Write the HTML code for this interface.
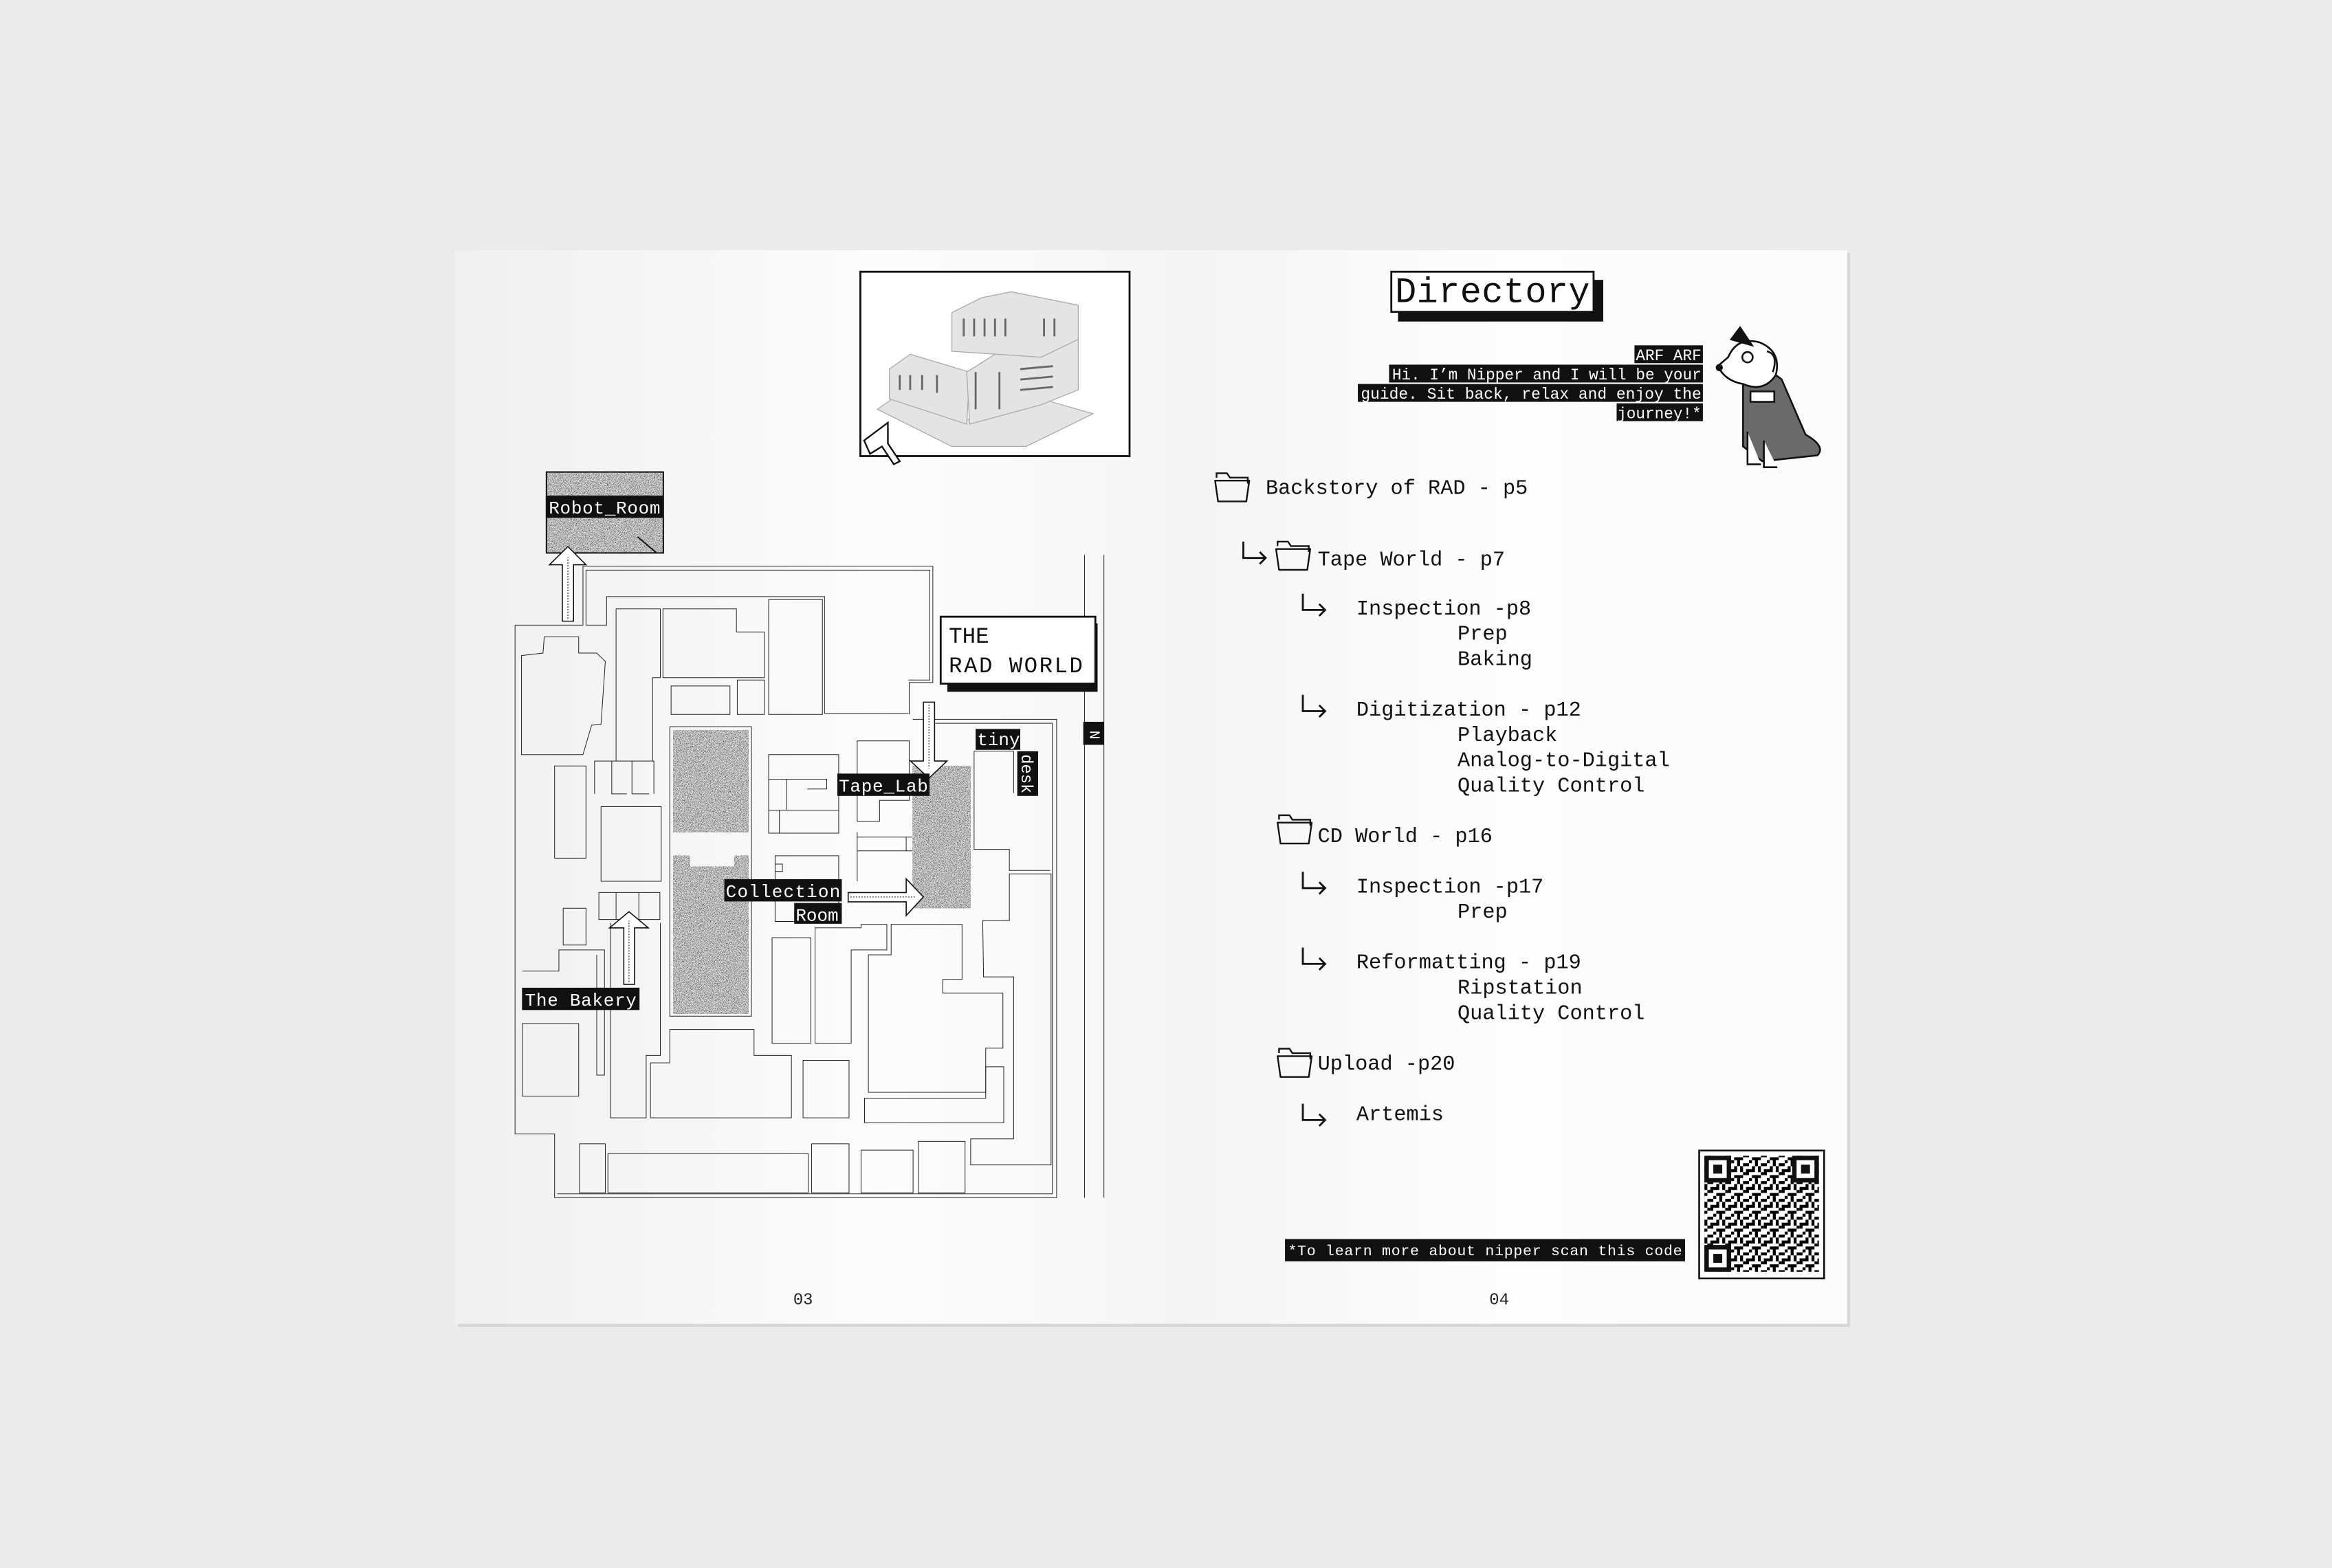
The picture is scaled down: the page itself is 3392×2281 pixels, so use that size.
<!DOCTYPE html>
<html><head><meta charset="utf-8"><style>
html,body{margin:0;padding:0;background:#ebebeb;}
svg{display:block;}
text{font-family:"Liberation Mono","DejaVu Sans Mono",monospace;}
</style></head><body>
<svg width="3392" height="2281" viewBox="0 0 1568 1054" xmlns="http://www.w3.org/2000/svg">
<defs>
<linearGradient id="lp" x1="0" x2="1" y1="0" y2="0"><stop offset="0" stop-color="#f0f0f0"/><stop offset="0.6" stop-color="#fcfcfc"/><stop offset="1" stop-color="#f6f6f6"/></linearGradient>
<linearGradient id="rp" x1="0" x2="1" y1="0" y2="0"><stop offset="0" stop-color="#f4f4f4"/><stop offset="0.5" stop-color="#fdfdfd"/><stop offset="1" stop-color="#fbfbfb"/></linearGradient>
<filter id="noise" x="0" y="0" width="1" height="1">
<feTurbulence type="fractalNoise" baseFrequency="0.9" numOctaves="2" seed="3" result="t"/>
<feColorMatrix in="t" type="matrix" values="0 0 0 0 0  0 0 0 0 0  0 0 0 0 0  5 0 0 0 -2.3" result="a"/>
<feFlood flood-color="#333"/>
<feComposite in2="a" operator="in" result="d"/>
<feFlood flood-color="#e2e2e2"/>
<feComposite in="d" operator="over"/>
<feComposite in2="SourceGraphic" operator="in"/>
</filter>
<pattern id="qr" width="12" height="12" patternUnits="userSpaceOnUse">
<rect width="12" height="12" fill="#fff"/>
<rect x="0" y="0" width="2" height="2"/><rect x="4" y="0" width="2" height="4"/><rect x="8" y="2" width="4" height="2"/><rect x="2" y="4" width="2" height="2"/><rect x="6" y="4" width="2" height="4"/><rect x="0" y="6" width="4" height="2"/><rect x="10" y="6" width="2" height="4"/><rect x="2" y="10" width="4" height="2"/><rect x="8" y="8" width="2" height="2"/><rect x="6" y="10" width="2" height="2"/>
</pattern>
<g id="folder"><path d="M1,3 L1,0 L8,0 L10,3 L22,3 L22,7" fill="none" stroke="#111" stroke-width="1.1"/><path d="M2,19 L0,5 L23,5 L21,19 Z" fill="none" stroke="#111" stroke-width="1.1" stroke-linejoin="round"/></g>
<g id="ret"><path d="M0,0 V11 H15 M11,7 L15,11 L11,15" fill="none" stroke="#111" stroke-width="1.3"/></g>
</defs>
<rect width="1568" height="1054" fill="#ebebeb"/>
<rect x="308" y="170" width="936" height="722" fill="#d6d6d6"/>
<rect x="306" y="168" width="478" height="722" fill="url(#lp)"/>
<rect x="784" y="168" width="458" height="722" fill="url(#rp)"/>

<!-- building picture -->
<rect x="578.5" y="182.5" width="181" height="124" fill="#fff" stroke="#111" stroke-width="1.3"/>
<g fill="#e4e4e4" stroke="#aaa" stroke-width="0.6">
<polygon points="590,275 640,300 690,300 735,278 700,268 650,282 600,268"/>
<polygon points="598,248 598,268 650,285 652,250 612,238"/>
<polygon points="650,250 652,285 700,272 725,262 725,225 685,228"/>
<polygon points="640,210 640,236 700,240 725,228 725,205 680,196 660,200"/>
</g>
<g stroke="#666" stroke-width="1.3"><line x1="648" y1="214" x2="648" y2="226"/><line x1="655" y1="214" x2="655" y2="226"/><line x1="662" y1="214" x2="662" y2="226"/><line x1="669" y1="214" x2="669" y2="226"/><line x1="676" y1="214" x2="676" y2="226"/><line x1="702" y1="214" x2="702" y2="226"/><line x1="709" y1="214" x2="709" y2="226"/>
<line x1="605" y1="252" x2="605" y2="262"/><line x1="612" y1="252" x2="612" y2="262"/><line x1="620" y1="252" x2="620" y2="262"/><line x1="630" y1="252" x2="630" y2="264"/><line x1="686" y1="248" x2="708" y2="246"/><line x1="686" y1="255" x2="708" y2="253"/><line x1="686" y1="262" x2="708" y2="260"/><line x1="656" y1="250" x2="656" y2="275"/><line x1="672" y1="250" x2="672" y2="275"/></g>
<polygon points="581,296 597,284 597,298 605,310 601,312 593,300 585,305" fill="#fff" stroke="#111" stroke-width="1.1"/>

<!-- MAP -->
<g transform="translate(323.2,305.3) scale(0.289,0.330)" fill="none" stroke="#222" stroke-width="1" >
<path vector-effect="non-scaling-stroke" d="M80,348 H238 V228 H1052 V465 H997 V530 M1005,540 H1340 V1515 H172 V1385 H80 V348"/>
<path vector-effect="non-scaling-stroke" d="M245,348 V236 H1045 V460 H995 M1058,548 H1330 V1507 H178"/>
<path vector-effect="non-scaling-stroke" d="M95,410 L145,405 L148,372 L228,372 L228,405 L270,405 L290,422 L280,550 L258,552 L238,612 L95,612 Z"/>
<rect vector-effect="non-scaling-stroke" x="172" y="635" width="73" height="188"/>
<path vector-effect="non-scaling-stroke" d="M265,692 V625 H403 V692 M305,625 V692 H340 M352,625 V692 H392"/>
<rect vector-effect="non-scaling-stroke" x="280" y="718" width="140" height="152"/>
<path vector-effect="non-scaling-stroke" d="M275,948 V893 H417 V948 Z M315,893 V948 M368,893 V948"/>
<rect vector-effect="non-scaling-stroke" x="192" y="925" width="53" height="75"/>
<path vector-effect="non-scaling-stroke" d="M97,1053 H182 V1010 H288 V1265 H270 V1020"/>
<rect vector-effect="non-scaling-stroke" x="97" y="1160" width="131" height="148"/>
<path vector-effect="non-scaling-stroke" d="M315,625 V315 H418 V455 H400 V625"/>
<path vector-effect="non-scaling-stroke" d="M302,955 V1352 H385 V1225 H418 V955"/>
<path vector-effect="non-scaling-stroke" d="M245,348 H293 V290 H800 V528 H995"/>
<path vector-effect="non-scaling-stroke" d="M424,315 H595 V362 H660 V455 H424 Z"/>
<rect vector-effect="non-scaling-stroke" x="443" y="472" width="137" height="58"/>
<rect vector-effect="non-scaling-stroke" x="597" y="460" width="63" height="70"/>
<rect vector-effect="non-scaling-stroke" x="670" y="296" width="125" height="234"/>
<path vector-effect="non-scaling-stroke" d="M440,555 V1145 H630 V555 Z"/>
<rect vector-effect="non-scaling-stroke" x="670" y="612" width="163" height="160"/>
<path vector-effect="non-scaling-stroke" d="M670,662 H805 V682 H760 M712,662 V725 M670,725 H833 M695,725 V772"/>
<rect vector-effect="non-scaling-stroke" x="685" y="818" width="148" height="134"/>
<path vector-effect="non-scaling-stroke" d="M685,835 H702 V850 H685 M876,748 V584 H997 V705 H928 V748 Z M876,770 V870 M876,780 H1005 M876,808 H1005 M990,780 V808"/>
<path vector-effect="non-scaling-stroke" d="M1148,605 H1240 V690 M1148,605 V805 H1230 V848 H1325"/>
<rect vector-effect="non-scaling-stroke" x="678" y="985" width="90" height="215"/>
<path vector-effect="non-scaling-stroke" d="M778,965 H885 V958 H945 V1010 H862 V1200 H778 Z"/>
<path vector-effect="non-scaling-stroke" d="M902,1020 H955 V958 H1120 V1070 H1075 V1098 H1215 V1210 H1175 V1300 H902 Z"/>
<path vector-effect="non-scaling-stroke" d="M395,1240 H440 V1172 H636 V1225 H723 V1352 H395 Z"/>
<rect vector-effect="non-scaling-stroke" x="750" y="1235" width="107" height="117"/>
<path vector-effect="non-scaling-stroke" d="M893,1312 H1175 V1248 H1217 V1362 H893 Z"/>
<path vector-effect="non-scaling-stroke" d="M1168,950 H1230 V855 H1327 V1448 H1140 V1395 H1240 V1065 H1170 Z"/>
<rect vector-effect="non-scaling-stroke" x="230" y="1405" width="60" height="100"/>
<rect vector-effect="non-scaling-stroke" x="296" y="1425" width="466" height="80"/>
<rect vector-effect="non-scaling-stroke" x="770" y="1405" width="87" height="100"/>
<rect vector-effect="non-scaling-stroke" x="885" y="1418" width="121" height="87"/>
<rect vector-effect="non-scaling-stroke" x="1018" y="1400" width="109" height="105"/>
<path vector-effect="non-scaling-stroke" d="M1405,205 V1515 M1450,205 V1515"/>
<!-- textured -->
<rect x="448" y="562" width="175" height="208" fill="#999" filter="url(#noise)"/>
<path d="M448,818 H487 V840 H590 V818 H623 V1140 H448 Z" fill="#999" filter="url(#noise)"/>
<rect x="1005" y="635" width="135" height="290" fill="#999" filter="url(#noise)"/>
<rect x="153" y="36" width="272" height="165" fill="#999" filter="url(#noise)"/>
<rect x="153" y="36" width="272" height="165" stroke="#111" stroke-width="2" vector-effect="non-scaling-stroke"/>
<path d="M365,168 L408,200" stroke="#111" stroke-width="2" vector-effect="non-scaling-stroke"/>
<!-- arrows -->
<g fill="#fff" stroke="#111" stroke-width="1.6">
<path vector-effect="non-scaling-stroke" d="M190,340 V225 H160 L203,188 L245,225 H216 V340 Z"/>
<path vector-effect="non-scaling-stroke" d="M1030,505 V625 H1000 L1043,660 L1085,625 H1056 V505 Z"/>
<path vector-effect="non-scaling-stroke" d="M855,893 H990 V865 L1030,902 L990,940 V912 H855 Z"/>
<path vector-effect="non-scaling-stroke" d="M333,1080 V965 H300 L345,932 L390,965 H358 V1080 Z"/>
</g>
<g stroke="#555" stroke-width="1.5" stroke-dasharray="2 2" fill="none">
<path vector-effect="non-scaling-stroke" d="M203,335 V210 M1043,510 V640 M860,902 H1010 M345,1075 V950"/>
</g>
<rect x="1402" y="545" width="48" height="47" fill="#111" stroke="none"/>
</g>
<text x="733" y="491" font-size="10" fill="#fff" transform="rotate(90 733 491)">N</text>

<!-- labels -->
<rect x="367" y="333" width="79" height="15" fill="#111"/>
<text x="369" y="345" font-size="12" fill="#fff" textLength="75">Robot_Room</text>
<rect x="637" y="419" width="101" height="46" fill="#111"/>
<rect x="632.5" y="414.5" width="104" height="45" fill="#fff" stroke="#111" stroke-width="1.3"/>
<text x="638" y="432" font-size="15" fill="#111">THE</text>
<text x="638" y="452" font-size="15" fill="#111" textLength="90">RAD WORLD</text>
<rect x="656" y="490" width="30" height="14" fill="#111"/>
<text x="657" y="501" font-size="12" fill="#fff">tiny</text>
<rect x="684" y="505" width="14" height="30" fill="#111"/>
<text x="687" y="507" font-size="11" fill="#fff" transform="rotate(90 687 507)">desk</text>
<rect x="563" y="520" width="62" height="15" fill="#111"/>
<text x="564" y="532" font-size="12" fill="#fff" textLength="60">Tape_Lab</text>
<rect x="487" y="591" width="79" height="15" fill="#111"/>
<text x="488" y="603" font-size="12" fill="#fff" textLength="77">Collection</text>
<rect x="534" y="607" width="32" height="14" fill="#111"/>
<text x="535" y="619" font-size="12" fill="#fff">Room</text>
<rect x="351" y="664" width="79" height="15" fill="#111"/>
<text x="353" y="676" font-size="12" fill="#fff" textLength="75">The Bakery</text>
<text x="540" y="877" font-size="11" fill="#222" text-anchor="middle">03</text>

<!-- RIGHT PAGE -->
<rect x="940" y="188" width="138" height="28" fill="#111"/>
<rect x="935.5" y="182.5" width="136" height="27" fill="#fff" stroke="#111" stroke-width="1.3"/>
<text x="938" y="203" font-size="24" fill="#111" textLength="131">Directory</text>
<g fill="#111">
<rect x="1099" y="232" width="46" height="12"/>
<rect x="934" y="245" width="211" height="12"/>
<rect x="913" y="258" width="232" height="12"/>
<rect x="1087" y="271" width="58" height="12"/>
</g>
<g font-size="10.5" fill="#fff" text-anchor="end">
<text x="1144" y="242">ARF ARF</text>
<text x="1144" y="255" textLength="208" lengthAdjust="spacingAndGlyphs">Hi. I’m Nipper and I will be your</text>
<text x="1144" y="268" textLength="229" lengthAdjust="spacingAndGlyphs">guide. Sit back, relax and enjoy the</text>
<text x="1144" y="281">journey!*</text>
</g>
<!-- dog -->
<g stroke="#111" stroke-width="1.2">
<path d="M1172,252 Q1188,246 1198,255 L1214,292 Q1228,300 1222,306 L1185,310 L1172,300 Z" fill="#6a6a6a"/>
<path d="M1162,240 Q1168,226 1183,230 Q1198,236 1194,252 Q1186,264 1172,258 Q1160,256 1155,246 Z" fill="#fff"/>
<path d="M1164,228 L1170,220 L1178,232 Z" fill="#111"/>
<path d="M1188,236 Q1196,238 1192,250" fill="none"/>
<circle cx="1175" cy="240" r="3.5" fill="#fff"/>
<circle cx="1156" cy="247" r="1.8" fill="#111"/>
<path d="M1175,290 V312 H1184 M1186,296 V314 H1195" fill="#fff"/>
<rect x="1177" y="263" width="16" height="7" fill="#fff"/>
</g>

<g font-size="14" fill="#111">
<use href="#folder" x="817" y="318"/>
<text x="851" y="332">Backstory of RAD - p5</text>
<use href="#ret" x="836" y="364"/>
<use href="#folder" x="858" y="364"/>
<text x="886" y="380">Tape World - p7</text>
<use href="#ret" x="876" y="399"/>
<text x="912" y="413">Inspection -p8</text>
<text x="980" y="430">Prep</text>
<text x="980" y="447">Baking</text>
<use href="#ret" x="876" y="467"/>
<text x="912" y="481">Digitization - p12</text>
<text x="980" y="498">Playback</text>
<text x="980" y="515">Analog-to-Digital</text>
<text x="980" y="532">Quality Control</text>
<use href="#folder" x="859" y="548"/>
<text x="886" y="566">CD World - p16</text>
<use href="#ret" x="876" y="586"/>
<text x="912" y="600">Inspection -p17</text>
<text x="980" y="617">Prep</text>
<use href="#ret" x="876" y="637"/>
<text x="912" y="651">Reformatting - p19</text>
<text x="980" y="668">Ripstation</text>
<text x="980" y="685">Quality Control</text>
<use href="#folder" x="859" y="705"/>
<text x="886" y="719">Upload -p20</text>
<use href="#ret" x="876" y="742"/>
<text x="912" y="753">Artemis</text>
</g>
<!-- QR -->
<rect x="1142.5" y="773.5" width="84" height="86" fill="#fff" stroke="#111" stroke-width="1.2"/>
<rect x="1146" y="777" width="77" height="78" fill="url(#qr)"/>
<g fill="#fff" stroke="#111" stroke-width="3">
<rect x="1147.5" y="778.5" width="15" height="15"/><rect x="1206.5" y="778.5" width="15" height="15"/><rect x="1147.5" y="838.5" width="15" height="15"/>
</g>
<g fill="#111"><rect x="1152" y="783" width="6" height="6"/><rect x="1211" y="783" width="6" height="6"/><rect x="1152" y="843" width="6" height="6"/></g>
<rect x="864" y="833" width="269" height="15" fill="#111"/>
<text x="866" y="844" font-size="10" fill="#fff" textLength="265">*To learn more about nipper scan this code</text>
<text x="1008" y="877" font-size="11" fill="#222" text-anchor="middle">04</text>
</svg>
</body></html>
